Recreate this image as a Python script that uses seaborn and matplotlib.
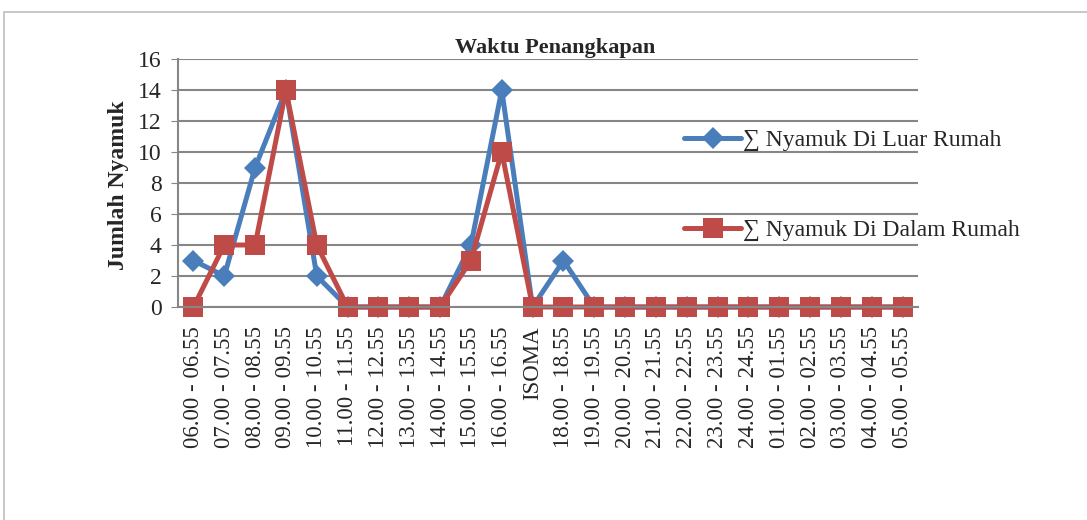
# Waktu penangkapan nyamuk - line chart
import pandas as pd
import matplotlib.pyplot as plt
import seaborn as sns
from matplotlib.patches import Rectangle

# data
categories = ['06.00 - 06.55', '07.00 - 07.55', '08.00 - 08.55', '09.00 - 09.55',
              '10.00 - 10.55', '11.00 - 11.55', '12.00 - 12.55', '13.00 - 13.55',
              '14.00 - 14.55', '15.00 - 15.55', '16.00 - 16.55', 'ISOMA',
              '18.00 - 18.55', '19.00 - 19.55', '20.00 - 20.55', '21.00 - 21.55',
              '22.00 - 22.55', '23.00 - 23.55', '24.00 - 24.55', '01.00 - 01.55',
              '02.00 - 02.55', '03.00 - 03.55', '04.00 - 04.55', '05.00 - 05.55']
luar_rumah = [3, 2, 9, 14, 2, 0, 0, 0, 0, 4, 14, 0, 3, 0, 0, 0, 0, 0, 0, 0, 0, 0, 0, 0]
dalam_rumah = [0, 4, 4, 14, 4, 0, 0, 0, 0, 3, 10, 0, 0, 0, 0, 0, 0, 0, 0, 0, 0, 0, 0, 0]
label_luar = '∑ Nyamuk Di Luar Rumah'
label_dalam = '∑ Nyamuk Di Dalam Rumah'

sns.set_style('white')
plt.rcParams['font.family'] = ['Liberation Serif', 'DejaVu Serif']

df = pd.DataFrame({
    'pos': list(range(len(categories))) * 2,
    'jumlah': luar_rumah + dalam_rumah,
    'seri': [label_luar] * len(categories) + [label_dalam] * len(categories),
})

fig = plt.figure(figsize=(10.87, 5.2), dpi=100)
ax = fig.add_axes([0.1638, 0.4096, 0.6807, 0.4769])

grid_col = '#868686'
sns.lineplot(data=df, x='pos', y='jumlah', hue='seri', style='seri',
             palette={label_luar: '#4A7EBB', label_dalam: '#BE4B48'},
             markers={label_luar: 'D', label_dalam: 's'},
             dashes=False, sort=False, linewidth=3.6, markersize=13,
             markeredgewidth=0, ax=ax, legend=False)
# marker sizes per series, markers at 0 must not be clipped
ax.lines[0].set_markersize(11)
ax.lines[1].set_markersize(14.5)
for ln in ax.lines[:2]:
    ln.set_clip_on(False)

ax.set_xlim(-0.5, len(categories) - 0.5)
ax.set_ylim(0, 16)
ax.set_yticks(range(0, 17, 2))
ax.set_xticks(range(len(categories)))
ax.set_xticklabels(categories, rotation=90, fontsize=16.5)
ax.tick_params(axis='y', labelsize=17, length=5, color=grid_col, left=True, pad=7)
ax.tick_params(axis='x', length=0, pad=14)
ax.yaxis.grid(True, color=grid_col, linewidth=1.5)
ax.set_axisbelow(True)
for s in ['top', 'right']:
    ax.spines[s].set_visible(False)
for s in ['left', 'bottom']:
    ax.spines[s].set_color(grid_col)
    ax.spines[s].set_linewidth(1.5)
ax.set_xlabel('')
ax.set_ylabel('')

fig.text(0.1086, 0.644, 'Jumlah Nyamuk', rotation=90, fontsize=17,
         fontweight='bold', ha='center', va='center')
fig.text(0.511, 0.907, 'Waktu Penangkapan', fontsize=16, fontweight='bold',
         ha='center', va='center')

# legend
handles = ax.lines[:2]
leg = fig.legend(handles, [label_luar, label_dalam], loc='upper left',
                 bbox_to_anchor=(0.61, 0.792), frameon=False, fontsize=17,
                 handlelength=2.4, handletextpad=0.1, labelspacing=2.9)

# outer chart border
fig.patches.append(Rectangle((4 / 1087, -0.1), 1.2, 1 - 12 / 520 + 0.1,
                             transform=fig.transFigure, fill=False,
                             edgecolor='#BFBFBF', linewidth=1.2))

fig.savefig('out.png', dpi=100)
